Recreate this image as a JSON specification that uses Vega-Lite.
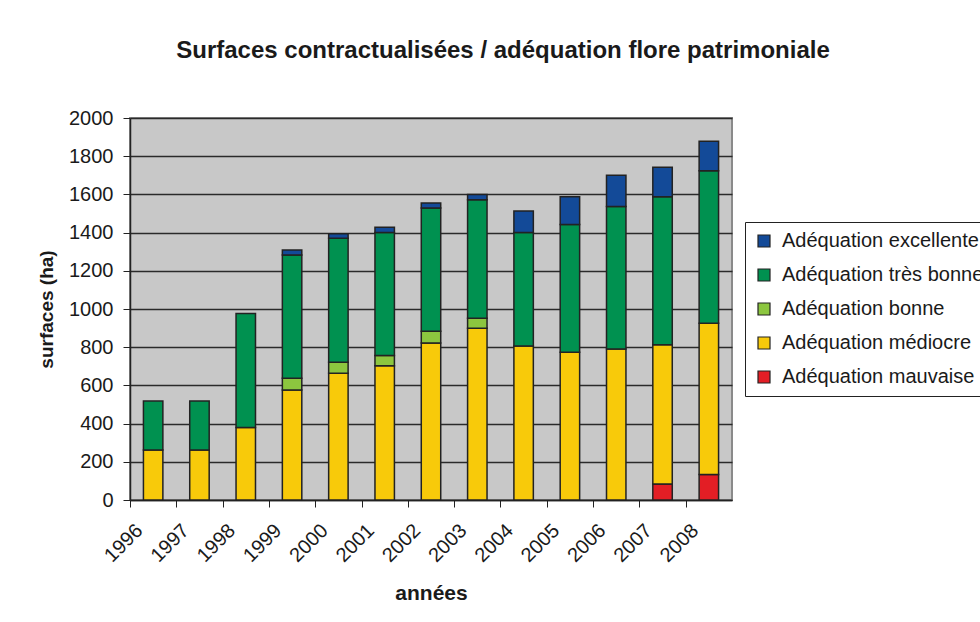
{
  "$schema": "https://vega.github.io/schema/vega-lite/v6.json",
  "width": 602,
  "height": 382,
  "autosize": {"type": "none"},
  "padding": {"left": 130, "top": 118, "right": 248, "bottom": 122},
  "background": "white",
  "title": {
    "text": "Surfaces contractualisées / adéquation flore patrimoniale",
    "font": "Liberation Sans",
    "fontSize": 24,
    "fontWeight": "bold",
    "color": "#1a1a1a",
    "anchor": "middle",
    "dx": 72,
    "offset": 45
  },
  "config": {
    "view": {"fill": "#C8C8C8", "stroke": "#8a8a8a", "strokeWidth": 2},
    "font": "Liberation Sans"
  },
  "data": {
    "values": [
      {"year": "1996", "cat": "Adéquation médiocre", "v": 262},
      {"year": "1996", "cat": "Adéquation très bonne", "v": 256},
      {"year": "1997", "cat": "Adéquation médiocre", "v": 262},
      {"year": "1997", "cat": "Adéquation très bonne", "v": 256},
      {"year": "1998", "cat": "Adéquation médiocre", "v": 380},
      {"year": "1998", "cat": "Adéquation très bonne", "v": 597},
      {"year": "1999", "cat": "Adéquation médiocre", "v": 576},
      {"year": "1999", "cat": "Adéquation bonne", "v": 61},
      {"year": "1999", "cat": "Adéquation très bonne", "v": 646},
      {"year": "1999", "cat": "Adéquation excellente", "v": 26},
      {"year": "2000", "cat": "Adéquation médiocre", "v": 663},
      {"year": "2000", "cat": "Adéquation bonne", "v": 58},
      {"year": "2000", "cat": "Adéquation très bonne", "v": 649},
      {"year": "2000", "cat": "Adéquation excellente", "v": 24},
      {"year": "2001", "cat": "Adéquation médiocre", "v": 703},
      {"year": "2001", "cat": "Adéquation bonne", "v": 53},
      {"year": "2001", "cat": "Adéquation très bonne", "v": 644},
      {"year": "2001", "cat": "Adéquation excellente", "v": 28},
      {"year": "2002", "cat": "Adéquation médiocre", "v": 822},
      {"year": "2002", "cat": "Adéquation bonne", "v": 61},
      {"year": "2002", "cat": "Adéquation très bonne", "v": 646},
      {"year": "2002", "cat": "Adéquation excellente", "v": 26},
      {"year": "2003", "cat": "Adéquation médiocre", "v": 899},
      {"year": "2003", "cat": "Adéquation bonne", "v": 52},
      {"year": "2003", "cat": "Adéquation très bonne", "v": 621},
      {"year": "2003", "cat": "Adéquation excellente", "v": 27},
      {"year": "2004", "cat": "Adéquation médiocre", "v": 806},
      {"year": "2004", "cat": "Adéquation très bonne", "v": 594},
      {"year": "2004", "cat": "Adéquation excellente", "v": 113},
      {"year": "2005", "cat": "Adéquation médiocre", "v": 773},
      {"year": "2005", "cat": "Adéquation très bonne", "v": 670},
      {"year": "2005", "cat": "Adéquation excellente", "v": 145},
      {"year": "2006", "cat": "Adéquation médiocre", "v": 791},
      {"year": "2006", "cat": "Adéquation très bonne", "v": 745},
      {"year": "2006", "cat": "Adéquation excellente", "v": 164},
      {"year": "2007", "cat": "Adéquation mauvaise", "v": 84},
      {"year": "2007", "cat": "Adéquation médiocre", "v": 729},
      {"year": "2007", "cat": "Adéquation très bonne", "v": 775},
      {"year": "2007", "cat": "Adéquation excellente", "v": 154},
      {"year": "2008", "cat": "Adéquation mauvaise", "v": 134},
      {"year": "2008", "cat": "Adéquation médiocre", "v": 791},
      {"year": "2008", "cat": "Adéquation très bonne", "v": 799},
      {"year": "2008", "cat": "Adéquation excellente", "v": 154}
    ]
  },
  "transform": [
    {"calculate": "indexof(['Adéquation mauvaise','Adéquation médiocre','Adéquation bonne','Adéquation très bonne','Adéquation excellente'], datum.cat)", "as": "k"}
  ],
  "mark": {"type": "bar", "stroke": "#222222", "strokeWidth": 1.5},
  "encoding": {
    "x": {
      "field": "year",
      "type": "ordinal",
      "scale": {"paddingInner": 0.58, "paddingOuter": 0.29},
      "axis": {
        "title": "années",
        "titleFont": "Liberation Sans",
        "titleFontSize": 21,
        "titleFontWeight": "bold",
        "titleColor": "#1a1a1a",
        "titlePadding": 17,
        "labelAngle": -45,
        "labelFontSize": 20,
        "labelColor": "#1a1a1a",
        "tickOffset": -23.15,
        "labelOffset": 2,
        "labelPadding": 13,
        "tickSize": 7,
        "tickColor": "#222222",
        "domainColor": "#222222",
        "domainWidth": 1.5,
        "grid": false
      }
    },
    "y": {
      "field": "v",
      "type": "quantitative",
      "stack": "zero",
      "scale": {"domain": [0, 2000], "nice": false},
      "axis": {
        "title": "surfaces (ha)",
        "titleFont": "Liberation Sans",
        "titleFontSize": 19,
        "titleFontWeight": "bold",
        "titleColor": "#1a1a1a",
        "titlePadding": 12,
        "values": [0, 200, 400, 600, 800, 1000, 1200, 1400, 1600, 1800, 2000],
        "format": "d",
        "labelFontSize": 20,
        "labelColor": "#1a1a1a",
        "labelPadding": 10,
        "tickSize": 7,
        "tickColor": "#222222",
        "domainColor": "#222222",
        "domainWidth": 1.5,
        "grid": true,
        "gridColor": "#2a2a2a",
        "gridWidth": 1.3,
        "gridOpacity": 1
      }
    },
    "color": {
      "field": "cat",
      "type": "nominal",
      "sort": ["Adéquation excellente", "Adéquation très bonne", "Adéquation bonne", "Adéquation médiocre", "Adéquation mauvaise"],
      "scale": {
        "domain": ["Adéquation excellente", "Adéquation très bonne", "Adéquation bonne", "Adéquation médiocre", "Adéquation mauvaise"],
        "range": ["#134A98", "#009150", "#8CC63F", "#F8CA0A", "#E31E25"]
      },
      "legend": {
        "title": null,
        "orient": "none",
        "legendX": 615,
        "legendY": 104,
        "labelFontSize": 20,
        "labelColor": "#1a1a1a",
        "labelFont": "Liberation Sans",
        "labelLimit": 400,
        "symbolType": "square",
        "symbolSize": 144,
        "symbolStrokeColor": "#222222",
        "symbolStrokeWidth": 1.2,
        "rowPadding": 14,
        "labelOffset": 8,
        "padding": 9,
        "strokeColor": "#222222",
        "fillColor": "white"
      }
    },
    "order": {"field": "k", "type": "quantitative", "sort": "ascending"}
  }
}
